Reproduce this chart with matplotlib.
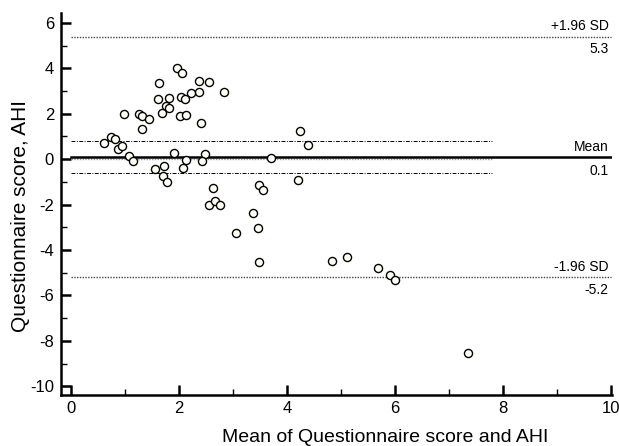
import matplotlib
matplotlib.use("Agg")
import matplotlib.pyplot as plt
from matplotlib.ticker import MultipleLocator

plt.rcParams["font.family"] = ["Liberation Sans", "DejaVu Sans"]
plt.rcParams["axes.unicode_minus"] = False

# Bland-Altman data: mean of the two methods vs difference
mean_vals = [1.97, 2.05, 1.63, 2.38, 2.56, 2.83, 2.37, 2.22, 2.04, 2.11,
             1.81, 1.61, 1.76, 1.82, 1.69, 0.99, 1.26, 1.32, 1.45, 2.02,
             2.14, 1.32, 2.40, 4.25, 4.39, 0.62, 0.74, 0.81, 0.88, 0.94,
             1.07, 1.14, 1.90, 2.48, 3.70, 2.14, 2.42, 2.08, 1.55, 1.73,
             1.71, 1.77, 2.63, 3.48, 3.56, 4.20, 2.55, 2.66, 2.76, 3.05,
             3.38, 3.46, 3.49, 4.84, 5.12, 5.68, 5.91, 6.01, 7.36]
diff_vals = [4.01, 3.79, 3.35, 3.46, 3.42, 2.95, 2.98, 2.91, 2.76, 2.67,
             2.71, 2.67, 2.36, 2.27, 2.05, 2.01, 1.97, 1.91, 1.76, 1.92,
             1.95, 1.32, 1.61, 1.22, 0.64, 0.73, 0.97, 0.88, 0.47, 0.56,
             0.16, -0.06, 0.29, 0.25, 0.07, -0.03, -0.07, -0.37, -0.41, -0.28,
             -0.72, -0.99, -1.25, -1.12, -1.37, -0.90, -2.01, -1.84, -2.01, -3.26,
             -2.37, -3.03, -4.54, -4.48, -4.30, -4.80, -5.09, -5.32, -8.55]

mean_diff = 0.08
upper_loa = 5.36
lower_loa = -5.2
ci_upper = 0.78
ci_lower = -0.62
ci_end = 7.8

fig = plt.figure(figsize=(6.19, 4.46), dpi=100)
ax = fig.add_axes([0.0985, 0.1135, 0.89, 0.858])

# limits of agreement and mean
ax.plot([0, 10], [upper_loa, upper_loa], color="#444444", lw=1.0, ls=(0, (1, 1)))
ax.plot([0, 10], [lower_loa, lower_loa], color="#444444", lw=1.0, ls=(0, (1, 1)))
ax.plot([0, ci_end], [0, 0], color="#999999", lw=1.0, ls=(0, (1, 1)))
ax.plot([0, 10], [mean_diff, mean_diff], color="black", lw=1.8)
ax.plot([0, ci_end], [ci_upper, ci_upper], color="black", lw=0.7, ls=(0, (4, 1.5, 1, 1.5)))
ax.plot([0, ci_end], [ci_lower, ci_lower], color="black", lw=0.7, ls=(0, (4, 1.5, 1, 1.5)))

ax.scatter(mean_vals, diff_vals, s=34, facecolor="#fffff4", edgecolor="black",
           linewidth=1.0, zorder=3)

# line labels
lbl = dict(ha="right", fontsize=10, textcoords="offset points")
ax.annotate("+1.96 SD", (9.96, upper_loa), xytext=(0, 5.5), va="baseline", **lbl)
ax.annotate("5.3", (9.96, upper_loa), xytext=(0, -3.5), va="top", **lbl)
ax.annotate("Mean", (9.96, mean_diff), xytext=(0, 4.3), va="baseline", **lbl)
ax.annotate("0.1", (9.96, mean_diff), xytext=(0, -4.5), va="top", **lbl)
ax.annotate("-1.96 SD", (9.96, lower_loa), xytext=(0, 4.3), va="baseline", **lbl)
ax.annotate("-5.2", (9.96, lower_loa), xytext=(0, -3.8), va="top", **lbl)

ax.set_xlim(-0.185, 10.02)
ax.set_ylim(-10.4, 6.45)
ax.xaxis.set_major_locator(MultipleLocator(2))
ax.xaxis.set_minor_locator(MultipleLocator(1))
ax.yaxis.set_major_locator(MultipleLocator(2))
ax.yaxis.set_minor_locator(MultipleLocator(1))
ax.tick_params(which="major", direction="in", length=7, width=1.8, labelsize=12)
ax.tick_params(which="minor", direction="in", length=4, width=1.0)
ax.tick_params(axis="x", pad=4)
ax.tick_params(axis="y", pad=5)

for side in ("top", "right"):
    ax.spines[side].set_visible(False)
for side in ("left", "bottom"):
    ax.spines[side].set_linewidth(1.8)

fig.text(385 / 619, 1 - 437 / 446, "Mean of Questionnaire score and AHI",
         ha="center", va="center", fontsize=14)
fig.text(21 / 619, 1 - 216 / 446, "Questionnaire score, AHI",
         ha="center", va="center", rotation=90, fontsize=15)

fig.savefig("out.png", dpi=100)
